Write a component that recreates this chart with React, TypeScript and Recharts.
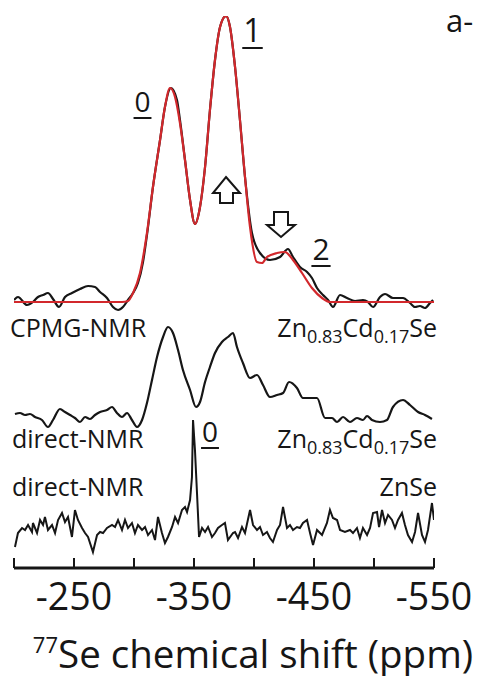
import { LineChart, Line, XAxis, YAxis } from 'recharts';

// 77Se shift axis (ppm), drawn high-to-low left to right
const shiftTicks = [-200, -250, -300, -350, -400, -450, -500, -550];
const labelledShifts = [-250, -350, -450, -550];

// CPMG-NMR, Zn0.83Cd0.17Se — measured spectrum
const cpmgShift = [
  -200, -203.3, -210.8, -215.8, -220, -224.2, -228.3, -232.5, -237.5, -242.5,
  -248.3, -255, -261.7, -267.5, -271.7, -277.5, -282.5, -286.7, -290.8, -295,
  -299.2, -303.3, -307.5, -310.8, -315.8, -321.7, -325.8, -330.8, -335.8, -338.3,
  -342.5, -346.7, -350.8, -355, -359.2, -363.3, -367.5, -371.7, -376.7, -380,
  -384.2, -388.3, -392.5, -398.3, -405, -413.3, -421.7, -428.3, -432.5, -438.3,
  -444.2, -448.3, -452.5, -457.5, -461.7, -465.8, -471.7, -477.5, -484.2, -490.8,
  -495, -499.2, -505, -509.2, -515.8, -524.2, -530, -534.2, -538.3, -542.5,
  -546.7, -549.2,
];
const cpmgSignal = [
  2, 5, -3, 0, 5, 7, 9, 3, -5, 5,
  9, 13, 16, 15, 10, 4, -5, -8, -5, 2,
  9, 19, 40, 67, 115, 162, 195, 214, 202, 182,
  142, 102, 78, 95, 135, 192, 242, 275, 286, 275,
  235, 182, 125, 69, 49, 42, 45, 53, 45, 35,
  30, 24, 14, 7, 2, -5, 7, 4, 1, 2,
  0, -5, 5, 8, 4, 4, -1, -5, -4, -6,
  -1, 2,
];

// CPMG-NMR — simulated fit
const fitShift = [
  -200, -290, -295, -299.2, -305, -310.8, -315.8, -321.7, -325.8, -330,
  -334.2, -338.3, -342.5, -346.7, -350.8, -355, -359.2, -363.3, -367.5, -371.7,
  -376.7, -380, -384.2, -388.3, -392.5, -396.7, -402.5, -406.7, -410.8, -419.2,
  -425.8, -432.5, -440, -448.3, -456.7, -463.3, -550,
];
const fitSignal = [
  0, 0, 1, 9, 29, 69, 115, 162, 195, 214,
  205, 179, 142, 102, 78, 95, 135, 192, 242, 275,
  286, 275, 235, 182, 125, 75, 40, 39, 45, 49,
  50, 42, 29, 14, 4, 0, 0,
];

// direct-NMR, Zn0.83Cd0.17Se
const directShift = [
  -200.8, -205, -209.2, -213.3, -217.5, -223.3, -228.3, -232.5, -238.3, -242.5,
  -246.7, -250.8, -255, -259.2, -263.3, -267.5, -271.7, -277.5, -281.7, -285.8,
  -290, -294.2, -298.3, -302.5, -306.7, -310.8, -315, -319.2, -324.2, -328.3,
  -332.5, -336.7, -340.8, -346.7, -351.7, -355, -359.2, -363.3, -367.5, -373.3,
  -378.3, -382.5, -385.8, -390.8, -396.7, -402.5, -407.5, -413.3, -419.2, -424.2,
  -429.2, -435.8, -440.8, -446.7, -452.5, -459.2, -465, -469.2, -474.2, -480,
  -485.8, -490.8, -494.2, -498.3, -505, -510.8, -515.8, -524.2, -530, -536.7,
  -542.5, -548.3,
];
const directSignal = [
  2, 3, 1, 2, -1, -4, -11, -4, 7, 4,
  1, -2, -6, -1, -3, 1, 4, 6, 9, 3,
  -1, 3, -4, -11, -4, 13, 36, 59, 79, 89,
  83, 66, 46, 26, 9, 14, 34, 49, 63, 74,
  79, 83, 69, 53, 38, 41, 31, 19, 21, 23,
  34, 28, 18, 18, 18, -2, -2, -6, -1, -6,
  -2, -4, 0, -4, -6, -4, 9, 16, 11, 4,
  1, -3,
];

// direct-NMR, ZnSe
const znseShift = [
  -200.8, -203.3, -206.7, -209.2, -211.7, -215, -215.8, -219.2, -221.7, -224.2,
  -225.8, -228.3, -231.7, -234.2, -236.7, -240, -242.5, -245, -248.3, -250.8,
  -253.3, -256.7, -259.2, -261.7, -265.8, -269.2, -271.7, -274.2, -277.5, -281.7,
  -284.2, -286.7, -290, -292.5, -295, -298.3, -300.8, -303.3, -306.7, -309.2,
  -311.7, -315, -317.5, -320, -323.3, -325.8, -328.3, -331.7, -334.2, -336.7,
  -340, -342.5, -344.2, -346.7, -348.3, -349.2, -350.8, -352.5, -354.2, -356.7,
  -359.2, -361.7, -365, -367.5, -370, -373.3, -375.8, -378.3, -382.5, -384.2,
  -386.7, -390, -392.5, -396.7, -399.2, -402.5, -405, -407.5, -410.8, -413.3,
  -415.8, -419.2, -421.7, -424.2, -427.5, -430, -432.5, -435.8, -438.3, -440.8,
  -444.2, -446.7, -449.2, -452.5, -456.7, -460.8, -463.3, -465.8, -469.2, -471.7,
  -475.8, -480, -482.5, -485.8, -488.3, -490.8, -494.2, -496.7, -499.2, -502.5,
  -504.2, -506.7, -509.2, -511.7, -515, -517.5, -520, -523.3, -525.8, -528.3,
  -531.7, -534.2, -536.7, -540, -542.5, -545, -548.3, -550,
];
const znseSignal = [
  -19, -5, 0, -2, 3, -4, 5, -5, 8, 3,
  11, -2, 3, -5, 8, 15, 6, 11, -9, 18,
  8, 0, -5, -9, -24, -7, -4, -5, 0, 3,
  1, 8, -2, 8, 0, 5, -5, 3, -2, 1,
  -7, -2, -12, 11, -5, -15, -9, 1, 11, 5,
  18, 21, 16, 28, 51, 108, 78, 35, -9, 0,
  -4, 1, -9, -5, 0, 3, 5, -12, -5, -4,
  -10, 1, -5, 18, 3, -2, 1, -7, -4, -10,
  -14, -2, 3, 21, 0, 3, -2, 1, 0, 5,
  8, -5, -17, -2, -7, 5, 18, 10, 8, -2,
  -4, -2, -5, 0, -10, 0, -7, 0, 15, 16,
  1, 18, 5, 13, 8, 0, 8, 15, 3, -7,
  -14, -4, 15, -7, -14, -2, 25, 8,
];

// vertical offsets used to stack the three spectra
const baseline = { cpmg: 266, direct: 152, znse: 40 };

const stack = (shift: number[], signal: number[], base: number) =>
  shift.map((x, i) => ({ x, y: signal[i] + base }));

const cpmgData = stack(cpmgShift, cpmgSignal, baseline.cpmg);
const fitData = stack(fitShift, fitSignal, baseline.cpmg);
const directData = stack(directShift, directSignal, baseline.direct);
const znseData = stack(znseShift, znseSignal, baseline.znse);

const INK = '#161616';
const FIT = '#d2282c';
const FONT = '"Open Sans", sans-serif';

function ShiftTick({ x, y, payload }: any) {
  const v = payload.value;
  return (
    <g>
      <line x1={x} x2={x} y1={y - 10} y2={y} stroke={INK} strokeWidth={2} />
      {labelledShifts.includes(v) && (
        <text x={x} y={y + 42} textAnchor="middle" fontSize={37.5} fontFamily={FONT} fill={INK}>
          {v}
        </text>
      )}
    </g>
  );
}

function AxisTitle({ viewBox }: any) {
  const { x, y, width } = viewBox;
  return (
    <text x={x + width / 2 + 29} y={y + 100} textAnchor="middle" fontFamily={FONT} fill={INK}>
      <tspan fontSize={22} dy={-15}>77</tspan>
      <tspan fontSize={38.5} dy={15}>Se chemical shift (ppm)</tspan>
    </text>
  );
}

// underlined site number
function Site({ x, y, size, children }: any) {
  const half = size * 0.32;
  return (
    <g>
      <text x={x} y={y} fontSize={size} textAnchor="middle">{children}</text>
      <line x1={x - half} x2={x + half} y1={y + 6} y2={y + 6} stroke={INK} strokeWidth={2} />
    </g>
  );
}

function Formula({ x, y }: { x: number; y: number }) {
  return (
    <text x={x} y={y} fontSize={25} textAnchor="end">
      Zn<tspan fontSize={18} dy={6}>0.83</tspan>
      <tspan dy={-6}>Cd</tspan>
      <tspan fontSize={18} dy={6}>0.17</tspan>
      <tspan dy={-6}>Se</tspan>
    </text>
  );
}

export default function App() {
  return (
    <div style={{ position: 'relative', width: 487, height: 684, margin: -8, background: '#fff' }}>
      <LineChart width={487} height={684} margin={{ top: 16, right: 53, bottom: 0, left: 14 }}>
        <XAxis
          dataKey="x"
          type="number"
          domain={[-550, -200]}
          reversed
          allowDataOverflow
          ticks={shiftTicks}
          interval={0}
          tickSize={0}
          tickMargin={0}
          tickLine={false}
          axisLine={{ stroke: INK, strokeWidth: 3 }}
          height={116}
          tick={<ShiftTick />}
          label={{ content: AxisTitle }}
        />
        <YAxis type="number" domain={[0, 552]} allowDataOverflow hide />
        <Line data={znseData} dataKey="y" type="linear" stroke={INK} strokeWidth={2} dot={false} isAnimationActive={false} />
        <Line data={directData} dataKey="y" type="monotone" stroke={INK} strokeWidth={2.2} dot={false} isAnimationActive={false} />
        <Line data={cpmgData} dataKey="y" type="monotone" stroke={INK} strokeWidth={2.2} dot={false} isAnimationActive={false} />
        <Line data={fitData} dataKey="y" type="monotone" stroke={FIT} strokeWidth={2.2} dot={false} isAnimationActive={false} />
      </LineChart>

      <svg
        width={487}
        height={684}
        style={{ position: 'absolute', left: 0, top: 0, pointerEvents: 'none' }}
        fontFamily={FONT}
        fill={INK}
      >
        <text x={446} y={32} fontSize={31}>a-</text>

        <Site x={142.5} y={112} size={28}>0</Site>
        <Site x={252.5} y={42} size={32}>1</Site>
        <Site x={321} y={260} size={30}>2</Site>
        <Site x={210} y={442} size={28}>0</Site>

        {/* intensity change markers */}
        <path d="M226,177 L240,193 L233,193 L233,203 L220,203 L220,193 L213,193 Z" fill="#fff" stroke={INK} strokeWidth={2} />
        <path d="M274,212 L288,212 L288,225 L295,225 L281,237 L267,225 L274,225 Z" fill="#fff" stroke={INK} strokeWidth={2} />

        <text x={10} y={337} fontSize={25}>CPMG-NMR</text>
        <Formula x={437} y={337} />
        <text x={12} y={448} fontSize={25}>direct-NMR</text>
        <Formula x={437} y={448} />
        <text x={12} y={496} fontSize={25}>direct-NMR</text>
        <text x={437} y={496} fontSize={25} textAnchor="end">ZnSe</text>
      </svg>
    </div>
  );
}
